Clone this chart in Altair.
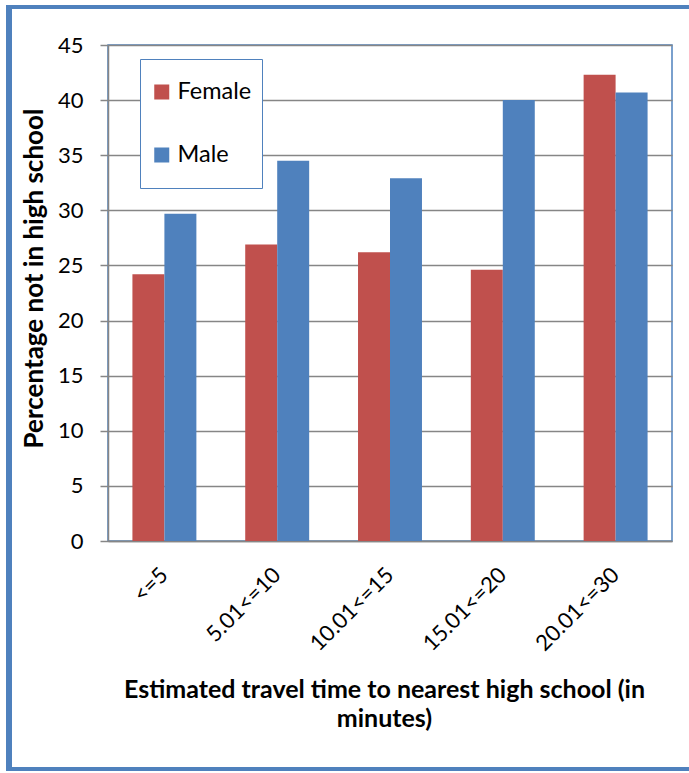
import altair as alt
import pandas as pd

# Travel-time bands and share of youths not attending high school (%)
categories = ["<=5", "5.01<=10", "10.01<=15", "15.01<=20", "20.01<=30"]
female = [24.2, 26.9, 26.2, 24.6, 42.3]
male = [29.7, 34.5, 32.9, 40.0, 40.7]
sexes = ["Female", "Male"]
colors = ["#C0504D", "#4F81BD"]
y_ticks = list(range(0, 46, 5))

rows = []
for cat, f, m in zip(categories, female, male):
    rows.append({"band": cat, "sex": "Female", "pct": f})
    rows.append({"band": cat, "sex": "Male", "pct": m})
df = pd.DataFrame(rows)

FONT = "Lato"
BLUE = "#4F81BD"
GRAY = "#868686"

bars = alt.Chart(df).mark_bar().encode(
    x=alt.X(
        "band:N",
        sort=categories,
        scale=alt.Scale(paddingInner=0.433, paddingOuter=0.2165),
        axis=alt.Axis(
            title=["Estimated travel time to nearest high school (in", "minutes)"],
            titleFont=FONT,
            titleFontSize=25,
            titleFontWeight="bold",
            titleColor="black",
            titleX=276,
            titleY=148,
            titleAlign="center",
            titleBaseline="middle",
            titleLineHeight=29,
            labelAngle=315,
            labelAlign="right",
            labelBaseline="middle",
            labelPadding=30,
            labelFont=FONT,
            labelFontSize=22,
            labelColor="black",
            ticks=False,
            domainColor=GRAY,
            domainWidth=1.5,
            grid=False,
        ),
    ),
    xOffset=alt.XOffset("sex:N", sort=sexes, scale=alt.Scale(paddingInner=0, paddingOuter=0)),
    y=alt.Y(
        "pct:Q",
        scale=alt.Scale(domain=[0, 45], nice=False),
        axis=alt.Axis(
            title="Percentage not in high school",
            titleFont=FONT,
            titleFontSize=26,
            titleFontWeight="bold",
            titleColor="black",
            titleAngle=270,
            titleX=-74,
            titleY=233,
            titleAlign="center",
            titleBaseline="middle",
            values=y_ticks,
            labelFont=FONT,
            labelFontSize=22,
            labelColor="black",
            labelPadding=17,
            tickSize=8,
            tickColor=GRAY,
            tickWidth=1.5,
            domainColor=GRAY,
            domainWidth=1.5,
            grid=True,
            gridColor=GRAY,
            gridWidth=1.5,
        ),
    ),
    color=alt.Color(
        "sex:N",
        scale=alt.Scale(domain=sexes, range=colors),
        legend=alt.Legend(
            title=None,
            orient="none",
            legendX=32,
            legendY=14,
            symbolType="square",
            symbolSize=225,
            symbolStrokeWidth=0,
            labelFont=FONT,
            labelFontSize=23.5,
            labelColor="black",
            labelOffset=4,
            clipHeight=46,
            rowPadding=17,
            padding=10,
            fillColor="white",
            strokeColor=BLUE,
        ),
    ),
)

one_row = alt.Data(values=[{}])

# Outer border around the whole figure
border = alt.Chart(one_row).mark_rect(filled=False, stroke=BLUE, strokeWidth=4).encode(
    x=alt.value(-99), x2=alt.value(600), y=alt.value(-38), y2=alt.value(724)
)
left_edge = alt.Chart(one_row).mark_rule(stroke=BLUE, strokeWidth=6).encode(
    x=alt.value(-99), y=alt.value(-40), y2=alt.value(726)
)

chart = (
    alt.layer(bars, border, left_edge)
    .properties(
        width=564,
        height=496,
        autosize=alt.AutoSizeParams(type="none"),
        padding={"left": 108, "top": 45, "right": 17, "bottom": 232},
        background="white",
    )
    .configure_view(stroke=BLUE, strokeWidth=1.5)
)

chart.save("out.html", embed_options={"renderer": "svg", "actions": False})
